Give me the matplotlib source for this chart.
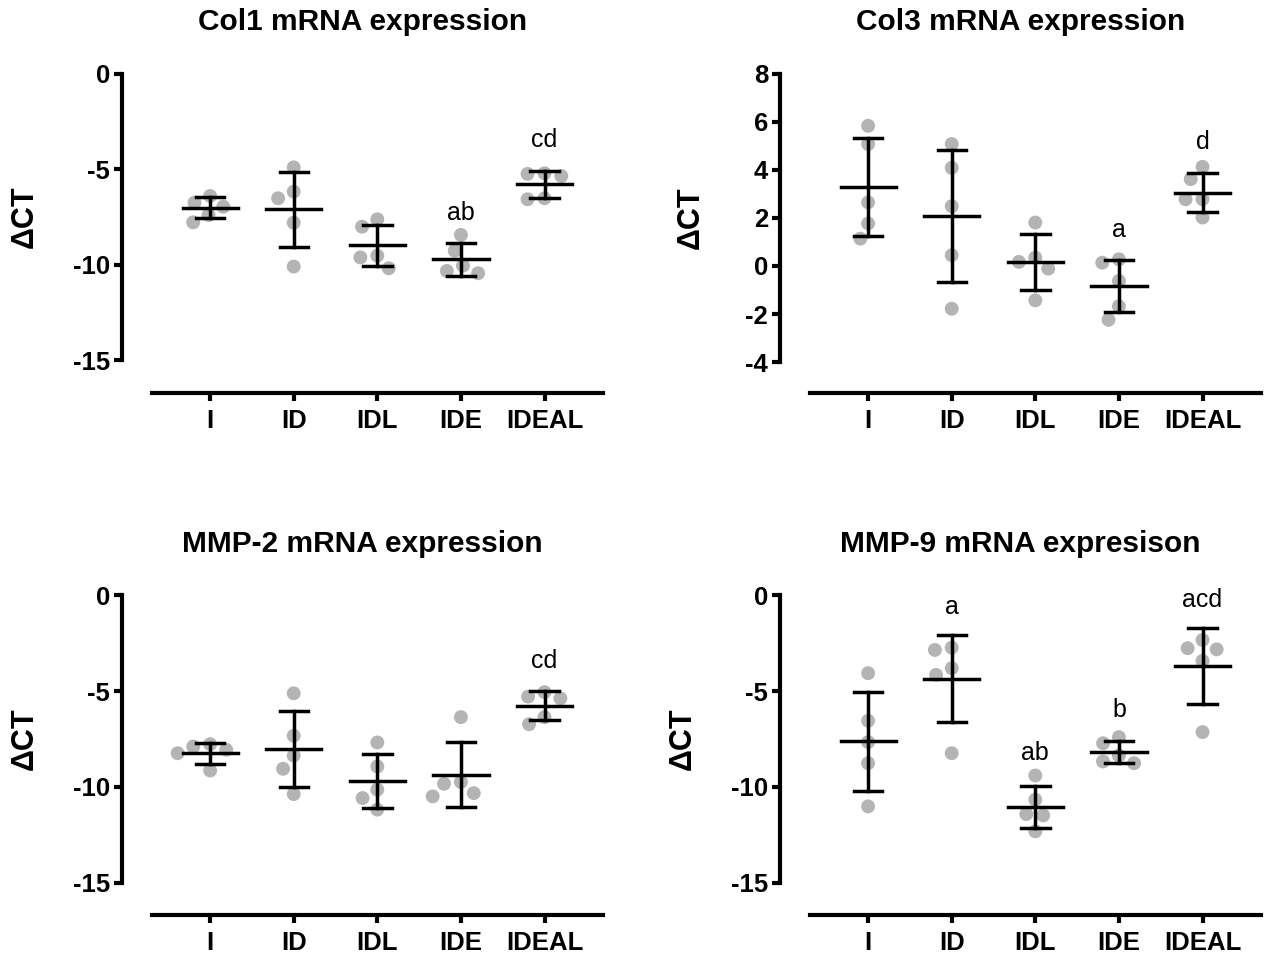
import numpy as np
import matplotlib
matplotlib.use("Agg")
import matplotlib.pyplot as plt

plt.rcParams['font.family'] = ['Liberation Sans', 'DejaVu Sans']

groups = ["I", "ID", "IDL", "IDE", "IDEAL"]

# Col1
col1_pts = [[-6.40, -6.75, -6.96, -7.40, -7.78],
            [-4.90, -6.17, -6.52, -7.80, -10.10],
            [-7.62, -8.01, -9.53, -9.62, -10.19],
            [-8.44, -9.27, -10.05, -10.33, -10.45],
            [-5.21, -5.24, -5.35, -6.52, -6.57]]
col1_mean = [-7.01, -7.10, -8.99, -9.72, -5.79]
col1_sd = [0.55, 1.95, 1.09, 0.85, 0.70]
col1_letters = ["", "", "", "ab", "cd"]
col1_letter_y = [0, 0, 0, -7.27, -3.46]

# Col3
col3_pts = [[5.84, 5.08, 2.65, 1.77, 1.14],
            [5.08, 4.09, 2.49, 0.45, -1.78],
            [1.81, 0.35, 0.17, -0.11, -1.43],
            [0.28, 0.14, -0.62, -1.68, -2.24],
            [4.13, 3.62, 2.78, 2.78, 2.02]]
col3_mean = [3.30, 2.09, 0.17, -0.83, 3.06]
col3_sd = [2.05, 2.76, 1.15, 1.10, 0.82]
col3_letters = ["", "", "", "a", "d"]
col3_letter_y = [0, 0, 0, 1.52, 5.18]

# MMP-2
mmp2_pts = [[-7.77, -7.89, -8.06, -8.24, -9.14],
            [-5.12, -7.33, -8.36, -9.05, -10.37],
            [-7.68, -8.93, -10.14, -10.58, -11.18],
            [-6.36, -9.74, -9.83, -10.32, -10.49],
            [-5.06, -5.29, -5.38, -6.36, -6.73]]
mmp2_mean = [-8.24, -8.03, -9.69, -9.36, -5.76]
mmp2_sd = [0.54, 1.98, 1.40, 1.70, 0.76]
mmp2_letters = ["", "", "", "", "cd"]
mmp2_letter_y = [0, 0, 0, 0, -3.42]

# MMP-9
mmp9_pts = [[-4.07, -6.55, -7.66, -8.76, -11.01],
            [-2.74, -2.86, -3.81, -4.16, -8.24],
            [-9.40, -10.66, -11.41, -11.48, -12.31],
            [-7.40, -7.72, -8.36, -8.67, -8.76],
            [-2.34, -2.77, -2.83, -3.43, -7.14]]
mmp9_mean = [-7.63, -4.37, -11.05, -8.18, -3.69]
mmp9_sd = [2.58, 2.27, 1.09, 0.57, 1.97]
mmp9_letters = ["", "a", "ab", "b", "acd"]
mmp9_letter_y = [0, -0.61, -8.24, -5.98, -0.26]

W, H = 1266, 957
fig = plt.figure(figsize=(W / 100, H / 100), dpi=100)

GRAY = "#b4b4b4"


def swarm(ax, x0, vals, d=17.0):
    # simple beeswarm in pixel space
    pix = ax.transData.transform([(x0, v) for v in vals])
    ys = pix[:, 1]
    order = np.argsort(-ys)
    placed = []
    xs = np.zeros(len(vals))
    for k in order:
        y = ys[k]
        bad = []
        for (px, py) in placed:
            dy = abs(py - y)
            if dy < d:
                w = np.sqrt(d * d - dy * dy)
                bad.append((px - w, px + w))
        cands = [0.0] + [b[0] for b in bad] + [b[1] for b in bad]
        cands = sorted(cands, key=abs)
        for c in cands:
            if all(not (lo + 1e-6 < c < hi - 1e-6) for lo, hi in bad):
                xs[k] = c
                break
        placed.append((xs[k], y))
    base = ax.transData.transform((x0, 0))[0]
    out = ax.transData.inverted().transform(np.column_stack([base + xs, ys]))
    return out[:, 0]


def panel(left, bottom, top, ylim, ybounds, yticks, title, pts, means, sds,
          letters, letter_y, ylab_x):
    x_lo, x_hi = -1.054, 4.70
    width = (x_hi - x_lo) * 83.6
    ax = fig.add_axes([left / W, 1 - bottom / H, width / W, (bottom - top) / H])
    ax.set_xlim(x_lo, x_hi)
    ax.set_ylim(*ylim)
    for s in ["top", "right"]:
        ax.spines[s].set_visible(False)
    ax.spines["left"].set_bounds(*ybounds)
    ax.spines["bottom"].set_bounds(-0.7, x_hi)
    for s in ["left", "bottom"]:
        ax.spines[s].set_linewidth(3)
    ax.set_yticks(yticks)
    ax.set_yticklabels([str(t) for t in yticks])
    ax.set_xticks(range(len(groups)))
    ax.set_xticklabels(groups)
    ax.tick_params(width=3, length=5.5, labelsize=18.5)
    ax.tick_params(axis="x", pad=6)
    ax.tick_params(axis="y", pad=3)
    for lab in ax.get_xticklabels() + ax.get_yticklabels():
        lab.set_fontweight("bold")

    for i, vals in enumerate(pts):
        xs = swarm(ax, i, vals)
        ax.scatter(xs, vals, s=100, color=GRAY, edgecolors="none", zorder=2)
        m, sd = means[i], sds[i]
        ax.plot([i - 0.33, i + 0.33], [m, m], color="black", lw=2.5, zorder=3)
        ax.plot([i, i], [m - sd, m + sd], color="black", lw=2.5, zorder=3)
        ax.plot([i - 0.17, i + 0.17], [m + sd, m + sd], color="black", lw=2.5, zorder=3)
        ax.plot([i - 0.17, i + 0.17], [m - sd, m - sd], color="black", lw=2.5, zorder=3)
        if letters[i]:
            ax.text(i, letter_y[i], letters[i], ha="center", va="center", fontsize=18)

    ax.set_ylabel("\u0394CT", fontsize=22, fontweight="bold")
    mid = (0.5 * (ybounds[0] + ybounds[1]) - ylim[0]) / (ylim[1] - ylim[0])
    ax.yaxis.set_label_coords(ylab_x, mid)
    fig.text((left + width / 2) / W, 1 - (top - 38) / H, title, ha="center", va="center",
             fontsize=21.5, fontweight="bold")
    return ax


panel(122, 393, 60, (-16.73, 0.73), (-15, 0), [0, -5, -10, -15],
      "Col1 mRNA expression", col1_pts, col1_mean, col1_sd,
      col1_letters, col1_letter_y, -0.17)
panel(780, 393, 60, (-5.29, 8.58), (-4, 8), [8, 6, 4, 2, 0, -2, -4],
      "Col3 mRNA expression", col3_pts, col3_mean, col3_sd,
      col3_letters, col3_letter_y, -0.155)
panel(122, 915, 582, (-16.67, 0.68), (-15, 0), [0, -5, -10, -15],
      "MMP-2 mRNA expression", mmp2_pts, mmp2_mean, mmp2_sd,
      mmp2_letters, mmp2_letter_y, -0.17)
panel(780, 915, 582, (-16.67, 0.68), (-15, 0), [0, -5, -10, -15],
      "MMP-9 mRNA expresison", mmp9_pts, mmp9_mean, mmp9_sd,
      mmp9_letters, mmp9_letter_y, -0.17)

fig.savefig("out.png", dpi=100)
